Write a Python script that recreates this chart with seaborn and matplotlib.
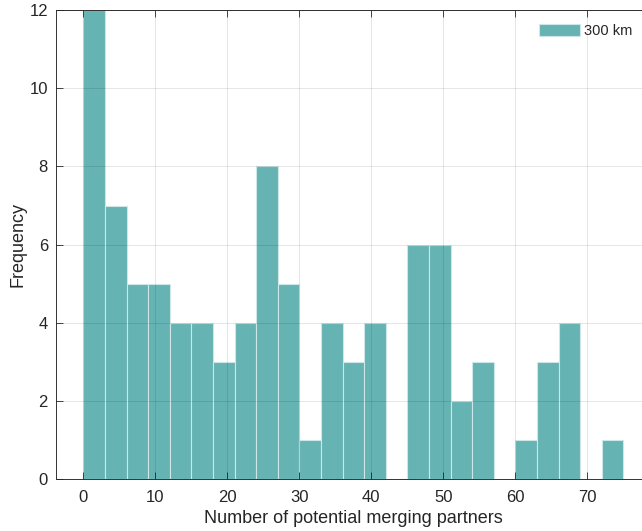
import numpy as np
import pandas as pd
import matplotlib
matplotlib.use("Agg")
import matplotlib.pyplot as plt
import seaborn as sns

# Data: histogram bins (width 3) and counts
bin_edges = list(range(0, 78, 3))
counts = [12, 7, 5, 5, 4, 4, 3, 4, 8, 5, 1, 4, 3, 4, 0, 6, 6, 2, 3, 0, 1, 3, 4, 0, 1]
series_label = "300 km"
x_ticks = [0, 10, 20, 30, 40, 50, 60, 70]
y_ticks = [0, 2, 4, 6, 8, 10, 12]

centers = [(bin_edges[i] + bin_edges[i + 1]) / 2 for i in range(len(counts))]
df = pd.DataFrame({"value": centers, "count": counts})

sns.set_style("white")
plt.rcParams["font.family"] = ["Liberation Sans", "DejaVu Sans"]

fig = plt.figure(figsize=(6.42, 5.31), dpi=100)
ax = fig.add_axes([56.3 / 642, 51.7 / 531, (650.3 - 56.3) / 642, (521 - 51.7) / 531])

sns.histplot(data=df, x="value", weights="count", bins=bin_edges, ax=ax,
             color="#66b3b3", alpha=1.0, edgecolor="#cfe6e6", linewidth=0.8,
             label=series_label)

ax.set_xlim(-3.75, 78.75)
ax.set_ylim(0, 12)
ax.set_xticks(x_ticks)
ax.set_yticks(y_ticks)
ax.grid(True, color="#000000", alpha=0.1, linewidth=0.7)
ax.set_axisbelow(False)
ax.tick_params(direction="in", length=5, width=0.6, color="#262626",
               labelsize=12, labelcolor="#262626", top=True, right=True,
               bottom=True, left=True)
ax.tick_params(axis="x", pad=8)
ax.tick_params(axis="y", pad=6)
for s in ax.spines.values():
    s.set_color("#333333")
    s.set_linewidth(0.7)
    s.set_visible(True)

ax.set_xlabel("Number of potential merging partners", fontsize=13, color="#262626", labelpad=3)
ax.set_ylabel("Frequency", fontsize=13, color="#262626", labelpad=2)

leg = ax.legend(loc="upper left", bbox_to_anchor=(539 / 642, 1 - 24 / 531),
                bbox_transform=fig.transFigure, borderpad=0, borderaxespad=0,
                frameon=False, fontsize=10.5, handlelength=2.8, handleheight=0.9,
                handletextpad=0.3)

fig.savefig("out.png", dpi=100)
